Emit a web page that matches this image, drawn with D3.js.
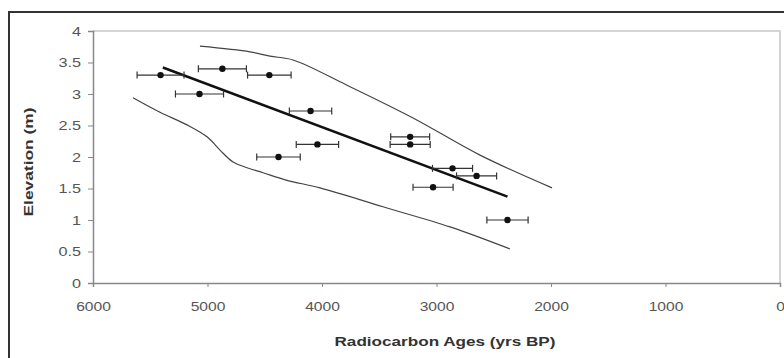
<!DOCTYPE html>
<html>
<head>
<meta charset="utf-8">
<script src="https://cdn.jsdelivr.net/npm/d3@7"></script>
<style>
  body { margin: 0; background: #fff; }
  text { font-family: Arial, "Liberation Sans", sans-serif; }
</style>
</head>
<body>
<div id="chart"></div>
<script>
// radiocarbon samples
const ages = [5410, 4870, 4460, 5070, 4100, 4040, 4380, 3230, 3230, 2860, 2650, 3030, 2380];
const elev = [3.3, 3.4, 3.3, 3.0, 2.73, 2.2, 2.0, 2.32, 2.2, 1.82, 1.7, 1.52, 1.0];
const ageErr = [205, 210, 190, 210, 185, 185, 190, 170, 175, 175, 175, 175, 180];

// fitted line
const fitAge = [5390, 2380];
const fitElev = [3.42, 1.37];

// envelope curves
const upperAge = [5066, 4629, 4454, 4253, 3782, 3205, 2620, 1991];
const upperElev = [3.76, 3.67, 3.6, 3.54, 3.14, 2.62, 2.03, 1.51];
const lowerAge = [5651, 5415, 5179, 5004, 4891, 4777, 4655, 4515, 4306, 4017, 3467, 2882, 2358];
const lowerElev = [2.94, 2.71, 2.51, 2.32, 2.11, 1.92, 1.83, 1.75, 1.63, 1.51, 1.21, 0.89, 0.54];

const xTicks = [6000, 5000, 4000, 3000, 2000, 1000, 0];
const yTicks = [0, 0.5, 1, 1.5, 2, 2.5, 3, 3.5, 4];

let width = 784,
    height = 358;

let svg = d3.select("#chart")
    .append("svg")
    .attr("width", width)
    .attr("height", height);

// outer frame (cut off at right and bottom like the source)
svg.append("rect")
    .attr("x", 9)
    .attr("y", 12)
    .attr("width", 800)
    .attr("height", 400)
    .attr("fill", "#fff")
    .attr("stroke", "#333")
    .attr("stroke-width", 2);

let x = d3.scaleLinear().domain([6000, 0]).range([93, 780]);
let y = d3.scaleLinear().domain([0, 4]).range([283, 31]);

// plot area border (top and right)
svg.append("path")
    .attr("d", `M${x(6000)},${y(4)}H${x(0)}V${y(0)}`)
    .attr("fill", "none")
    .attr("stroke", "#c8c8c8")
    .attr("stroke-width", 1.5);

// axes
let yAxis = svg.append("g")
    .attr("transform", `translate(${x(6000)},0)`)
    .call(d3.axisLeft(y).tickValues(yTicks).tickSize(5).tickPadding(0).tickFormat(d => String(d)));

let xAxis = svg.append("g")
    .attr("transform", `translate(0,${y(0)})`)
    .call(d3.axisBottom(x).tickValues(xTicks).tickSize(4).tickPadding(15).tickFormat(d => String(d)));

[yAxis, xAxis].forEach(function(a) {
    a.select(".domain").attr("stroke", "#888").attr("stroke-width", 1.5);
    a.selectAll(".tick line").attr("stroke", "#888");
    a.selectAll(".tick text")
        .attr("fill", "#555")
        .style("font-size", "12.5px")
        .style("font-family", "Arial, 'Liberation Sans', sans-serif");
});

// labels look horizontally stretched in the source
xAxis.selectAll(".tick text")
    .attr("transform", function() { return `translate(0,${d3.select(this).attr("y")}) scale(1.25,1) translate(0,${-d3.select(this).attr("y")})`; });
yAxis.selectAll(".tick text")
    .attr("x", 0)
    .attr("transform", "translate(-12,0) scale(1.3,1)");

// axis titles
svg.append("text")
    .attr("x", 445)
    .attr("y", 346)
    .style("text-anchor", "middle")
    .style("font-size", "13.5px")
    .style("font-weight", "bold")
    .attr("fill", "#333")
    .attr("textLength", 221)
    .attr("lengthAdjust", "spacingAndGlyphs")
    .text("Radiocarbon Ages (yrs BP)");

svg.append("text")
    .attr("transform", `translate(33, 162) rotate(-90)`)
    .style("text-anchor", "middle")
    .style("font-size", "13px")
    .style("font-weight", "bold")
    .attr("fill", "#333")
    .attr("textLength", 109)
    .attr("lengthAdjust", "spacingAndGlyphs")
    .text("Elevation (m)");

// envelope lines
let curve = d3.line()
    .x(d => x(d[0]))
    .y(d => y(d[1]))
    .curve(d3.curveCatmullRom);

svg.append("path")
    .datum(upperAge.map((a, i) => [a, upperElev[i]]))
    .attr("d", curve)
    .attr("fill", "none")
    .attr("stroke", "#444")
    .attr("stroke-width", 1.2);

svg.append("path")
    .datum(lowerAge.map((a, i) => [a, lowerElev[i]]))
    .attr("d", curve)
    .attr("fill", "none")
    .attr("stroke", "#444")
    .attr("stroke-width", 1.2);

// regression line
svg.append("path")
    .datum(fitAge.map((a, i) => [a, fitElev[i]]))
    .attr("d", d3.line().x(d => x(d[0])).y(d => y(d[1])))
    .attr("fill", "none")
    .attr("stroke", "#111")
    .attr("stroke-width", 2.5);

// error bars
let pts = ages.map((a, i) => ({ age: a, elev: elev[i], err: ageErr[i] }));

let bars = svg.append("g").selectAll("g").data(pts).enter().append("g")
    .attr("stroke", "#333")
    .attr("stroke-width", 1.2);

bars.append("line")
    .attr("x1", d => x(d.age + d.err))
    .attr("x2", d => x(d.age - d.err))
    .attr("y1", d => y(d.elev))
    .attr("y2", d => y(d.elev));

bars.append("line")
    .attr("x1", d => x(d.age + d.err))
    .attr("x2", d => x(d.age + d.err))
    .attr("y1", d => y(d.elev) - 3.5)
    .attr("y2", d => y(d.elev) + 3.5);

bars.append("line")
    .attr("x1", d => x(d.age - d.err))
    .attr("x2", d => x(d.age - d.err))
    .attr("y1", d => y(d.elev) - 3.5)
    .attr("y2", d => y(d.elev) + 3.5);

// markers
svg.append("g").selectAll("circle").data(pts).enter().append("circle")
    .attr("cx", d => x(d.age))
    .attr("cy", d => y(d.elev))
    .attr("r", 3.2)
    .attr("fill", "#111");
</script>
</body>
</html>
